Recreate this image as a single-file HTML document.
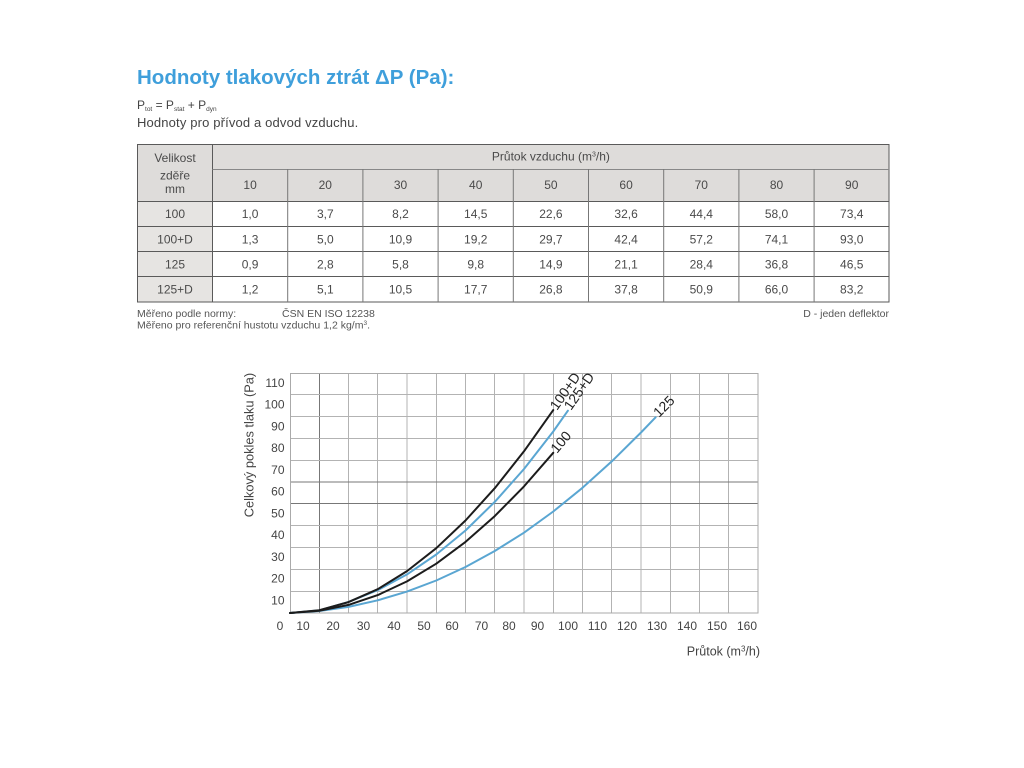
<!DOCTYPE html>
<html>
<head>
<meta charset="utf-8">
<style>
html,body{margin:0;padding:0;background:#fff;}
svg{display:block;}
text{font-family:"Liberation Sans",sans-serif;}
</style>
</head>
<body>
<svg width="1024" height="768" viewBox="0 0 1024 768" xmlns="http://www.w3.org/2000/svg">
<rect width="1024" height="768" fill="#fff"/>

<!-- Title -->
<text x="137" y="84" font-size="20.5" font-weight="bold" fill="#3f9fdb">Hodnoty tlakových ztrát ΔP (Pa):</text>
<text x="137" y="109" font-size="12" fill="#444">P<tspan font-size="6.5" dy="2">tot</tspan><tspan dy="-2"> = P</tspan><tspan font-size="6.5" dy="2">stat</tspan><tspan dy="-2"> + P</tspan><tspan font-size="6.5" dy="2">dyn</tspan></text>
<text x="137" y="127" font-size="13" letter-spacing="0.15" fill="#444">Hodnoty pro přívod a odvod vzduchu.</text>

<!-- Table backgrounds -->
<rect x="137" y="144" width="752" height="57" fill="#dedcda"/>
<rect x="137" y="201" width="75.5" height="101" fill="#e6e4e2"/>

<g stroke="#5a5a5a" stroke-width="1" fill="none">
  <rect x="137.5" y="144.5" width="751.5" height="157.5"/>
  <line x1="212.5" y1="144" x2="212.5" y2="302"/>
  <line x1="212.5" y1="169.5" x2="889" y2="169.5" stroke="#888"/>
  <line x1="137" y1="201.5" x2="889" y2="201.5"/>
  <line x1="137" y1="226.5" x2="889" y2="226.5"/>
  <line x1="137" y1="251.5" x2="889" y2="251.5"/>
  <line x1="137" y1="276.5" x2="889" y2="276.5"/>
</g>
<g stroke="#777" stroke-width="1">
  <line x1="287.7" y1="169" x2="287.7" y2="302"/>
  <line x1="362.9" y1="169" x2="362.9" y2="302"/>
  <line x1="438.1" y1="169" x2="438.1" y2="302"/>
  <line x1="513.3" y1="169" x2="513.3" y2="302"/>
  <line x1="588.5" y1="169" x2="588.5" y2="302"/>
  <line x1="663.7" y1="169" x2="663.7" y2="302"/>
  <line x1="738.9" y1="169" x2="738.9" y2="302"/>
  <line x1="814.1" y1="169" x2="814.1" y2="302"/>
</g>

<g font-size="12" fill="#4a4a4a" text-anchor="middle">
  <text x="175" y="162">Velikost</text>
  <text x="175" y="179.5">zděře</text>
  <text x="175" y="193">mm</text>
  <text x="550.9" y="160.5">Průtok vzduchu (m<tspan font-size="7" dy="-4">3</tspan><tspan dy="4">/h)</tspan></text>

  <text x="250.1" y="189">10</text>
  <text x="325.3" y="189">20</text>
  <text x="400.5" y="189">30</text>
  <text x="475.7" y="189">40</text>
  <text x="550.9" y="189">50</text>
  <text x="626.1" y="189">60</text>
  <text x="701.3" y="189">70</text>
  <text x="776.5" y="189">80</text>
  <text x="851.7" y="189">90</text>

  <text x="175" y="218">100</text>
  <text x="250.1" y="218">1,0</text>
  <text x="325.3" y="218">3,7</text>
  <text x="400.5" y="218">8,2</text>
  <text x="475.7" y="218">14,5</text>
  <text x="550.9" y="218">22,6</text>
  <text x="626.1" y="218">32,6</text>
  <text x="701.3" y="218">44,4</text>
  <text x="776.5" y="218">58,0</text>
  <text x="851.7" y="218">73,4</text>

  <text x="175" y="243.3">100+D</text>
  <text x="250.1" y="243.3">1,3</text>
  <text x="325.3" y="243.3">5,0</text>
  <text x="400.5" y="243.3">10,9</text>
  <text x="475.7" y="243.3">19,2</text>
  <text x="550.9" y="243.3">29,7</text>
  <text x="626.1" y="243.3">42,4</text>
  <text x="701.3" y="243.3">57,2</text>
  <text x="776.5" y="243.3">74,1</text>
  <text x="851.7" y="243.3">93,0</text>

  <text x="175" y="268.3">125</text>
  <text x="250.1" y="268.3">0,9</text>
  <text x="325.3" y="268.3">2,8</text>
  <text x="400.5" y="268.3">5,8</text>
  <text x="475.7" y="268.3">9,8</text>
  <text x="550.9" y="268.3">14,9</text>
  <text x="626.1" y="268.3">21,1</text>
  <text x="701.3" y="268.3">28,4</text>
  <text x="776.5" y="268.3">36,8</text>
  <text x="851.7" y="268.3">46,5</text>

  <text x="175" y="293.5">125+D</text>
  <text x="250.1" y="293.5">1,2</text>
  <text x="325.3" y="293.5">5,1</text>
  <text x="400.5" y="293.5">10,5</text>
  <text x="475.7" y="293.5">17,7</text>
  <text x="550.9" y="293.5">26,8</text>
  <text x="626.1" y="293.5">37,8</text>
  <text x="701.3" y="293.5">50,9</text>
  <text x="776.5" y="293.5">66,0</text>
  <text x="851.7" y="293.5">83,2</text>
</g>

<g font-size="10.5" fill="#555">
  <text x="137" y="317">Měřeno podle normy:</text>
  <text x="282" y="317">ČSN EN ISO 12238</text>
  <text x="889" y="317" text-anchor="end">D - jeden deflektor</text>
  <text x="137" y="328.5">Měřeno pro referenční hustotu vzduchu 1,2 kg/m<tspan font-size="6.5" dy="-3.5">3</tspan><tspan dy="3.5">.</tspan></text>
</g>

<!-- Chart grid -->
<g stroke="#b3b3b3" stroke-width="1">
  <line x1="319.5" y1="373" x2="319.5" y2="613" stroke="#777"/>
  <line x1="348.5" y1="373" x2="348.5" y2="613"/>
  <line x1="377.5" y1="373" x2="377.5" y2="613"/>
  <line x1="407" y1="373" x2="407" y2="613"/>
  <line x1="436.5" y1="373" x2="436.5" y2="613"/>
  <line x1="465.5" y1="373" x2="465.5" y2="613"/>
  <line x1="494.5" y1="373" x2="494.5" y2="613"/>
  <line x1="524" y1="373" x2="524" y2="613"/>
  <line x1="553.5" y1="373" x2="553.5" y2="613"/>
  <line x1="582.5" y1="373" x2="582.5" y2="613"/>
  <line x1="611.5" y1="373" x2="611.5" y2="613"/>
  <line x1="641" y1="373" x2="641" y2="613"/>
  <line x1="670.5" y1="373" x2="670.5" y2="613"/>
  <line x1="699.5" y1="373" x2="699.5" y2="613"/>
  <line x1="728.5" y1="373" x2="728.5" y2="613"/>

  <line x1="290" y1="591.5" x2="758" y2="591.5"/>
  <line x1="290" y1="569.5" x2="758" y2="569.5"/>
  <line x1="290" y1="547.5" x2="758" y2="547.5"/>
  <line x1="290" y1="525.5" x2="758" y2="525.5"/>
  <line x1="290" y1="503.5" x2="758" y2="503.5" stroke="#777"/>
  <line x1="290" y1="482" x2="758" y2="482" stroke="#777"/>
  <line x1="290" y1="460.5" x2="758" y2="460.5"/>
  <line x1="290" y1="438.5" x2="758" y2="438.5"/>
  <line x1="290" y1="416.5" x2="758" y2="416.5"/>
  <line x1="290" y1="394.5" x2="758" y2="394.5"/>
  <rect x="290.5" y="373.5" width="467.5" height="239.5" fill="none" stroke="#aaa"/>
</g>

<!-- Curves -->
<g fill="none" stroke-width="2" stroke-linejoin="round" stroke-linecap="round">
  <polyline stroke="#5aa6d2" points="290,613 319.25,611 348.5,606.9 377.75,600.3 407,591.6 436.25,580.5 465.5,567 494.75,551 524,532.7 553.25,511.5 582.5,487.8 611.75,461.4 641,432.5 655.6,417.3"/>
  <polyline stroke="#5aa6d2" points="290,613 319.25,610.4 348.5,601.9 377.75,590.1 407,574.4 436.25,554.5 465.5,530.5 494.75,501.9 524,469 553.25,431.5 567.9,410.7"/>
  <polyline stroke="#1c1c1c" points="290,613 319.25,610.8 348.5,604.9 377.75,595.1 407,581.4 436.25,563.7 465.5,541.9 494.75,516.1 524,486.4 553.25,452.8"/>
  <polyline stroke="#1c1c1c" points="290,613 319.25,610.2 348.5,602.1 377.75,589.2 407,571.1 436.25,548.2 465.5,520.5 494.75,488.2 524,451.3 553.25,410.1"/>
</g>

<!-- Curve labels -->
<g font-size="14" fill="#222">
  <text transform="translate(557,411) rotate(-55)">100+D</text>
  <text transform="translate(571,411) rotate(-55)">125+D</text>
  <text transform="translate(557,454) rotate(-50)">100</text>
  <text transform="translate(659,418) rotate(-45)">125</text>
</g>

<!-- Y tick labels -->
<g font-size="12" fill="#444" text-anchor="end">
  <text x="284.5" y="387">110</text>
  <text x="284.5" y="408.7">100</text>
  <text x="284.5" y="430.5">90</text>
  <text x="284.5" y="452.2">80</text>
  <text x="284.5" y="473.9">70</text>
  <text x="284.5" y="495.7">60</text>
  <text x="284.5" y="517.4">50</text>
  <text x="284.5" y="539.1">40</text>
  <text x="284.5" y="560.8">30</text>
  <text x="284.5" y="582.6">20</text>
  <text x="284.5" y="604.3">10</text>
</g>

<!-- X tick labels -->
<g font-size="12" fill="#444" text-anchor="middle">
  <text x="280" y="630">0</text>
  <text x="303" y="630">10</text>
  <text x="333" y="630">20</text>
  <text x="363.5" y="630">30</text>
  <text x="394" y="630">40</text>
  <text x="424" y="630">50</text>
  <text x="452" y="630">60</text>
  <text x="481.5" y="630">70</text>
  <text x="509" y="630">80</text>
  <text x="537.5" y="630">90</text>
  <text x="568" y="630">100</text>
  <text x="597.5" y="630">110</text>
  <text x="627" y="630">120</text>
  <text x="657" y="630">130</text>
  <text x="687" y="630">140</text>
  <text x="717" y="630">150</text>
  <text x="747" y="630">160</text>
</g>

<!-- Axis titles -->
<text transform="translate(253.5,445) rotate(-90)" font-size="12.8" fill="#444" text-anchor="middle">Celkový pokles tlaku (Pa)</text>
<text x="760" y="655.5" font-size="12.5" fill="#444" text-anchor="end">Průtok (m<tspan font-size="8" dy="-4">3</tspan><tspan dy="4">/h)</tspan></text>
</svg>
</body>
</html>
